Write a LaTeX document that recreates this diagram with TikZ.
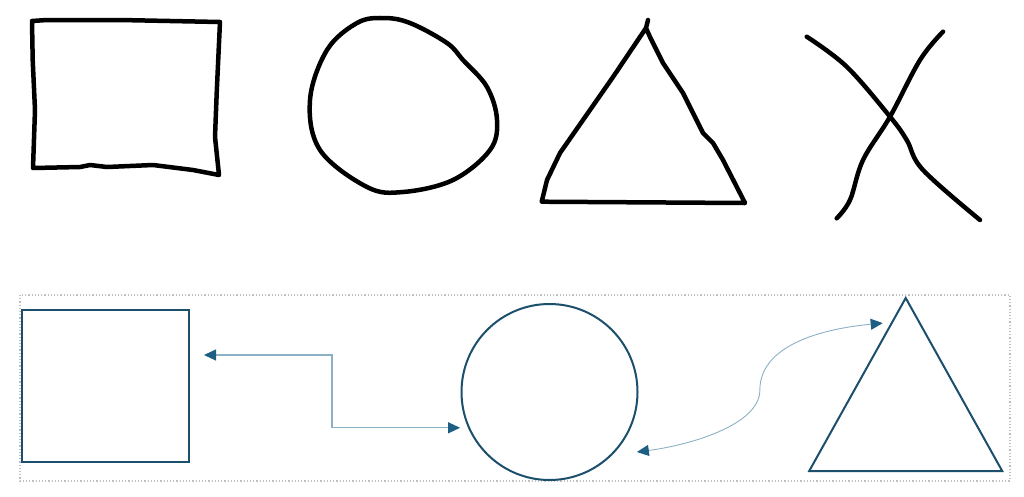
\documentclass[tikz,border=0pt]{standalone}
\usetikzlibrary{arrows.meta,shapes.geometric}
\definecolor{shapeblue}{HTML}{1B4F6B}
\definecolor{tipblue}{HTML}{1D5F83}
\definecolor{linkblue}{HTML}{8CB1C6}
\definecolor{framegray}{HTML}{C0C0C0}
\tikzset{
  sketch/.style={black, line width=4.5pt, line cap=round, line join=round},
  shapebox/.style={draw=shapeblue, line width=2pt, inner sep=0pt, outer sep=0pt},
  link/.style={draw=linkblue, line width=1.1pt, {Triangle[length=12pt,width=11pt,color=tipblue]}-{Triangle[length=12pt,width=11pt,color=tipblue]}},
}
\begin{document}
\begin{tikzpicture}[x=1pt,y=-1pt]
    \useasboundingbox (0,0) rectangle (1024,496);

    % hand drawn row
    \draw[sketch] (32,21) -- (47,20) -- (120,20) -- (220,22) -- (219,43) -- (216.7,93)
      -- (215,137) -- (219,175) -- (193,170) -- (153,165) -- (107,167) -- (90,165)
      -- (80,167) -- (33,168) -- (35,110) -- (32.7,60) -- cycle;
    \draw[sketch] plot[smooth cycle, tension=0.6] coordinates {
      (383,18) (410,23) (447,43) (463,60) (487,87) (497,120) (490,150)
      (453,180) (403,192) (367,187) (320,150) (310,100) (327,50) (357,23)};
    \draw[sketch] (646,28) -- (613,77) -- (583,120) -- (560,153) -- (547,180)
      -- (541.7,201.7) -- (745,203) -- (723,160) -- (713,143) -- (703,133)
      -- (683,93) -- (663,63) -- (650,37) -- (646,28) -- (648,20);
    \draw[sketch] plot[smooth, tension=0.6] coordinates {
      (806.7,36.7) (846.7,66.7) (890,116.7) (906.7,140) (923,170) (980,220)};
    \draw[sketch] plot[smooth, tension=0.6] coordinates {
      (943,31.7) (920,60) (890,116.7) (863,160) (850,200) (836.7,218.3)};

    % clean row
    \draw[framegray, line width=1.2pt, dotted] (20,295) rectangle (1010,481);

    \node[shapebox, rectangle, minimum width=167pt, minimum height=152pt] (sq) at (105.5,386) {};
    \node[shapebox, circle, minimum size=176pt] (circ) at (549.5,392) {};
    \node[shapebox, isosceles triangle, shape border rotate=90, isosceles triangle stretches,
      minimum width=193pt, minimum height=173pt, anchor=apex] (tri) at (905.7,298) {};
    \path (tri.apex) -- (tri.left corner) coordinate[pos=0.145] (tl);

    \draw[link, shorten <=15pt, shorten >=9pt] ([yshift=31pt]sq.east) -- ++(143,0) |- (circ.204);
    \draw[link, line width=0.9pt] ([xshift=23pt]circ.-43) .. controls +(53,-7) and +(0,35) .. ++(123,-62)
      .. controls +(0,-40) and +(-73,7) .. ([xshift=-9pt]tl);
\end{tikzpicture}
\end{document}
